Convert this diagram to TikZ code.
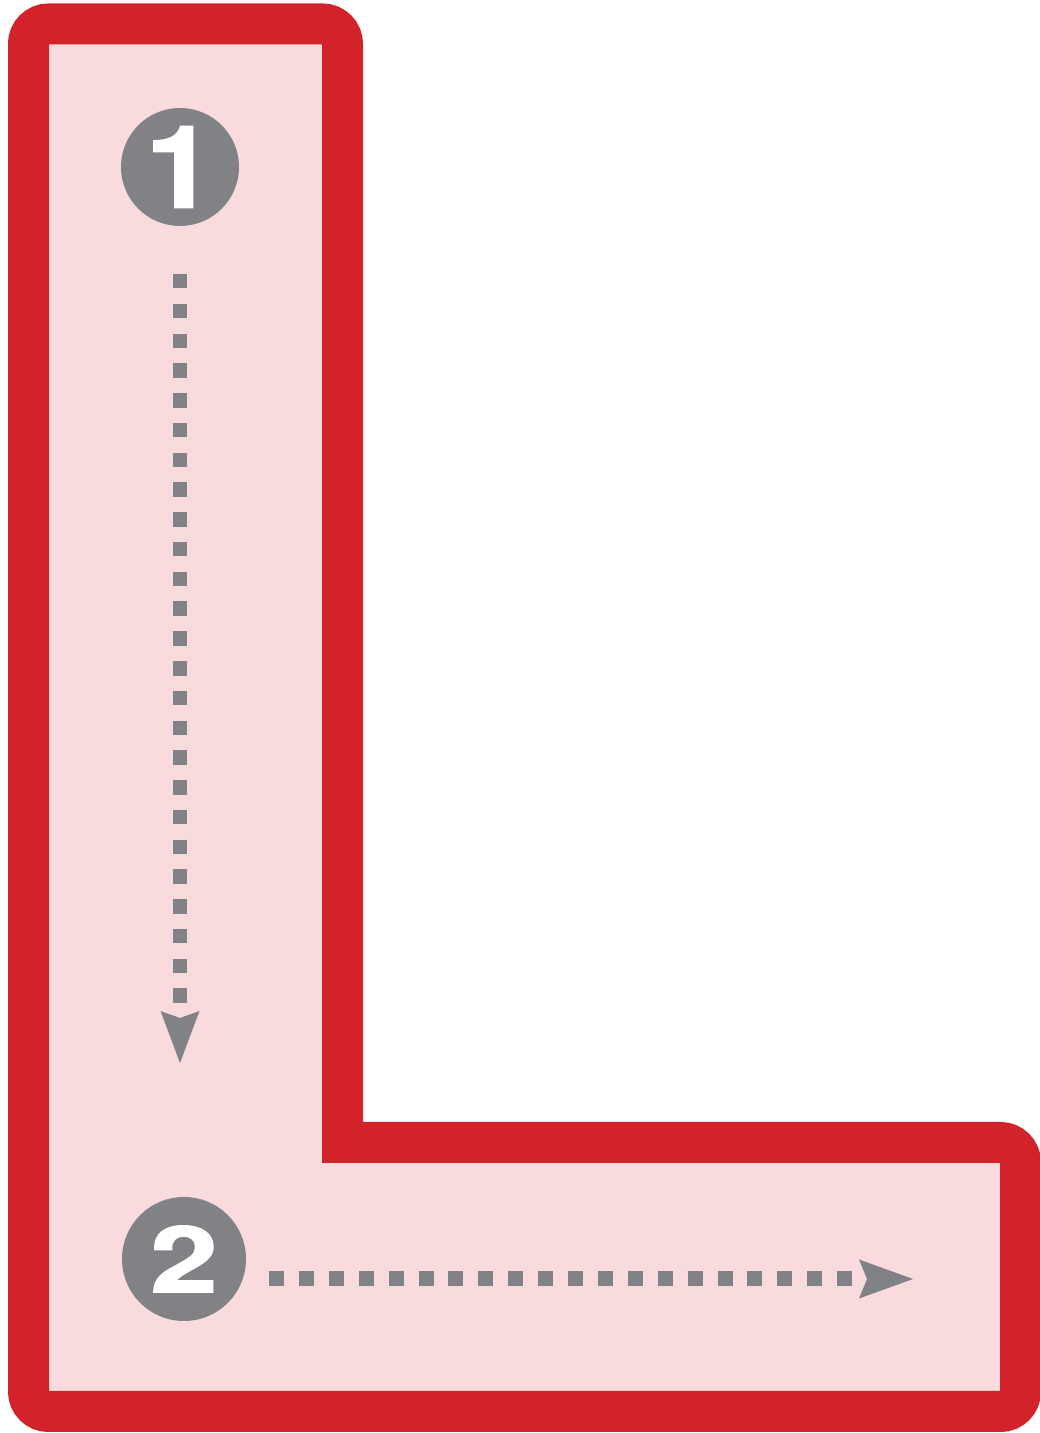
\documentclass[tikz,border=0pt]{standalone}
\usepackage{fontspec}
\newfontfamily\numfont{TeX Gyre Heros}[FakeBold=1.5]
\usepackage{graphicx}
\usetikzlibrary{arrows.meta}
\definecolor{Lred}{HTML}{D2232A}
\definecolor{Lpink}{HTML}{F9DADD}
\definecolor{Lgray}{HTML}{818285}
\begin{document}
\begin{tikzpicture}[x=1pt,y=1pt,
  frame/.style={draw=Lred, fill=Lpink, line width=41pt, line join=miter},
  numcircle/.style={circle, fill=Lgray, inner sep=0pt, text=white},
  dots/.style={draw=Lgray, line cap=butt}]
\useasboundingbox (0,0) rectangle (1040,1433);
% L-shaped frame
\draw[frame] (342.5,290.5) -- (1000.5,290.5)
  arc[start angle=90, end angle=0, radius=20] -- (1020.5,41.5)
  arc[start angle=0, end angle=-90, radius=20] -- (48.5,21.5)
  arc[start angle=-90, end angle=-180, radius=20] -- (28.5,1389)
  arc[start angle=180, end angle=90, radius=20] -- (322.5,1409)
  arc[start angle=90, end angle=0, radius=20] -- cycle;
% numbered circles
\node[numcircle, minimum size=118pt] (n1) at (180,1266)
  {\scalebox{1.08}[1]{\numfont\bfseries\fontsize{114.5}{114.5}\selectfont 1}\hspace{14pt}};
\node[numcircle, minimum size=124pt] (n2) at (184,174)
  {\scalebox{1.32}[1]{\numfont\bfseries\fontsize{92}{92}\selectfont 2}\hspace{6pt}};
% arrows
\coordinate (v1) at (180,1159);
\coordinate (v2) at (180,370);
\coordinate (h1) at (269,154);
\coordinate (h2) at (913,154);
\draw[dots, line width=13.5pt, dash pattern=on 14.5pt off 15.27pt,
  -{Stealth[length=52pt, width=39pt, inset=7pt, line width=0pt]}] (v1) -- (v2);
\draw[dots, line width=15pt, dash pattern=on 15pt off 14.9pt,
  -{Stealth[length=54pt, width=39pt, inset=8pt, line width=0pt]}] (h1) -- (h2);
\end{tikzpicture}
\end{document}
